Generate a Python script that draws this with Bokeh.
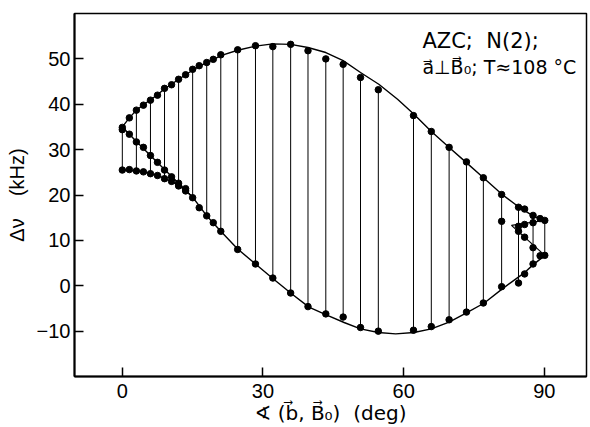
from bokeh.plotting import figure
from bokeh.models import Range1d, FixedTicker, Label
from bokeh.embed import file_html
from bokeh.resources import INLINE

# ---- data ----
# angles with a vertical connector (upper / lower splitting)
theta_main = [0, 3, 6, 9, 12, 15, 18, 21, 24.6, 28.4, 32.1, 35.9, 39.6, 43.4, 47.1,
              50.8, 54.6, 62.1, 65.9, 69.7, 73.4, 77.0, 80.9, 84.5, 87.6, 90.1]
upper_main = [34.9, 38.7, 40.9, 43.5, 45.5, 47.7, 49.2, 50.9, 52.0, 52.9, 52.7, 53.2, 51.8, 50.0, 48.8,
              45.9, 43.2, 37.5, 34.0, 30.5, 27.3, 23.8, 20.1, 17.3, 15.5, 14.4]
lower_main = [25.5, 25.3, 24.7, 23.6, 22.0, 19.4, 15.4, 12.0, 8.0, 4.8, 1.7, -1.6, -4.6, -6.2, -6.9,
              -9.2, -10.0, -9.8, -9.0, -7.5, -5.8, -3.8, -0.2, 0.6, 4.8, 6.7]

# intermediate angles (points only)
theta_mid = [1.5, 4.5, 7.5, 10.5, 13.5, 16.4, 19.4, 85.8, 89.1]
upper_mid = [37.0, 39.8, 42.0, 44.3, 46.5, 48.5, 49.9, 16.9, 14.8]
lower_mid = [25.6, 25.1, 24.3, 23.0, 20.9, 17.2, 13.9, 2.6, 6.6]

# points on the crossing branches
theta_cross_pts = [0, 1.5, 3, 4.5, 6, 7.5, 9, 10.5, 12, 13.5, 80.9, 84.5, 85.8, 87.6, 84.5, 85.8, 87.6]
value_cross_pts = [34.4, 33.4, 31.7, 30.5, 28.7, 27.2, 25.5, 24.0, 22.6, 21.4, 14.2, 13.1, 13.5, 13.9, 12.0, 10.7, 8.4]

# smooth curves
upper_curve_theta = [0, 1.5, 3, 4.5, 6, 7.5, 9, 10.5, 12, 13.5, 15, 16.5, 18, 19.5, 21, 24.6, 28.4,
                     32.1, 35.9, 39.6, 43.4, 47.1, 50.8, 54.7, 58.7, 62.2, 65.8, 69.6, 73.2, 76.9,
                     80.9, 84.5, 87.6, 90.1]
upper_curve = [35.0, 37.0, 38.7, 39.9, 41.0, 42.1, 43.4, 44.4, 45.5, 46.5, 47.5, 48.4, 49.2, 49.9,
               50.7, 51.9, 52.8, 53.3, 53.2, 52.5, 51.4, 49.6, 47.0, 44.4, 41.1, 37.8, 34.1, 30.6,
               27.3, 23.9, 20.2, 17.4, 15.4, 14.3]
lower_curve_theta = [0, 3, 6, 9, 12, 13.5, 15, 16.5, 18, 19.5, 21, 24.6, 28.4, 32.1, 35.9, 39.8,
                     43.5, 47.3, 50.8, 54.6, 58.3, 62.2, 65.9, 69.7, 73.5, 77.2, 80.9, 83.0, 85.8,
                     87.6, 90.1]
lower_curve = [25.5, 25.3, 24.8, 23.7, 22.1, 21.0, 19.5, 17.5, 15.4, 13.7, 12.0, 8.1, 4.8, 1.6,
               -1.6, -4.7, -6.4, -8.1, -9.5, -10.3, -10.6, -10.3, -9.5, -8.0, -5.9, -3.8, -0.8,
               0.8, 2.9, 4.6, 6.7]
cross_a_theta = [0, 3, 6, 9, 12, 15]
cross_a = [35.0, 31.8, 28.7, 25.6, 22.6, 19.5]
cross_b_theta = [83.0, 90.1]
cross_b = [13.3, 14.4]
cross_c_theta = [83.0, 90.1]
cross_c = [13.3, 6.7]

x_ticks = [0, 30, 60, 90]
y_ticks = [-10, 0, 10, 20, 30, 40, 50]

FONT = "Liberation Sans"
NB = "\u00a0"

p = figure(width=590, height=427, output_backend="svg", toolbar_location=None,
           x_range=Range1d(-10.2, 99.0), y_range=Range1d(-20, 60),
           min_border_left=74, min_border_right=4, min_border_top=13, min_border_bottom=51)
p.grid.visible = False
p.outline_line_color = "black"
p.outline_line_width = 1.5
p.background_fill_color = "white"
p.border_fill_color = "white"

for ax in (p.xaxis, p.yaxis):
    ax.axis_line_width = 2
    ax.axis_line_color = "black"
    ax.major_tick_in = 9
    ax.major_tick_out = 0
    ax.major_tick_line_width = 1.5
    ax.major_tick_line_color = "black"
    ax.minor_tick_line_color = None
    ax.major_label_text_font = FONT
    ax.major_label_text_font_size = "20px"
    ax.major_label_text_color = "black"
    ax.axis_label_text_font_style = "normal"
    ax.axis_label_text_color = "black"

p.xaxis.ticker = FixedTicker(ticks=x_ticks)
p.yaxis.ticker = FixedTicker(ticks=y_ticks)
p.xaxis.major_label_standoff = 7
p.yaxis.major_label_standoff = 4

p.yaxis.axis_label = "Δν" + NB * 4 + "(kHz)"
p.yaxis.axis_label_text_font = FONT
p.yaxis.axis_label_text_font_size = "20px"
p.yaxis.axis_label_standoff = 6

p.xaxis.axis_label = "\u2222" + NB + "(b\u20d7," + NB + "B\u20d7\u2080)" + NB * 2 + "(deg)"
p.xaxis.axis_label_text_font = "DejaVu Sans"
p.xaxis.axis_label_text_font_size = "20px"
p.xaxis.axis_label_standoff = 0

# vertical connectors
p.segment(x0=theta_main, y0=upper_main, x1=theta_main, y1=lower_main,
          line_color="black", line_width=1)

# curves
p.line(upper_curve_theta, upper_curve, line_color="black", line_width=1.4)
p.line(lower_curve_theta, lower_curve, line_color="black", line_width=1.4)
p.line(cross_a_theta, cross_a, line_color="black", line_width=1.4)
p.line(cross_b_theta, cross_b, line_color="black", line_width=1.2)
p.line(cross_c_theta, cross_c, line_color="black", line_width=1.2)

# points
DOT = 6.5
p.scatter(theta_main, upper_main, size=DOT, color="black")
p.scatter(theta_main, lower_main, size=DOT, color="black")
p.scatter(theta_mid, upper_mid, size=DOT, color="black")
p.scatter(theta_mid, lower_mid, size=DOT, color="black")
p.scatter(theta_cross_pts, value_cross_pts, size=DOT, color="black")

# annotation
p.add_layout(Label(x=64.0, y=53.9, text="AZC;" + NB * 2 + "N(2);", text_font="DejaVu Sans",
                   text_font_size="21px", text_color="black", text_baseline="middle"))
p.add_layout(Label(x=64.0, y=48.2, text="a\u20d7\u22a5B\u20d7\u2080;" + NB + "T\u2248108" + NB + "\u00b0C",
                   text_font="DejaVu Sans", text_font_size="19px", text_color="black",
                   text_baseline="middle"))

open("out.html", "w").write(file_html(p, INLINE))
